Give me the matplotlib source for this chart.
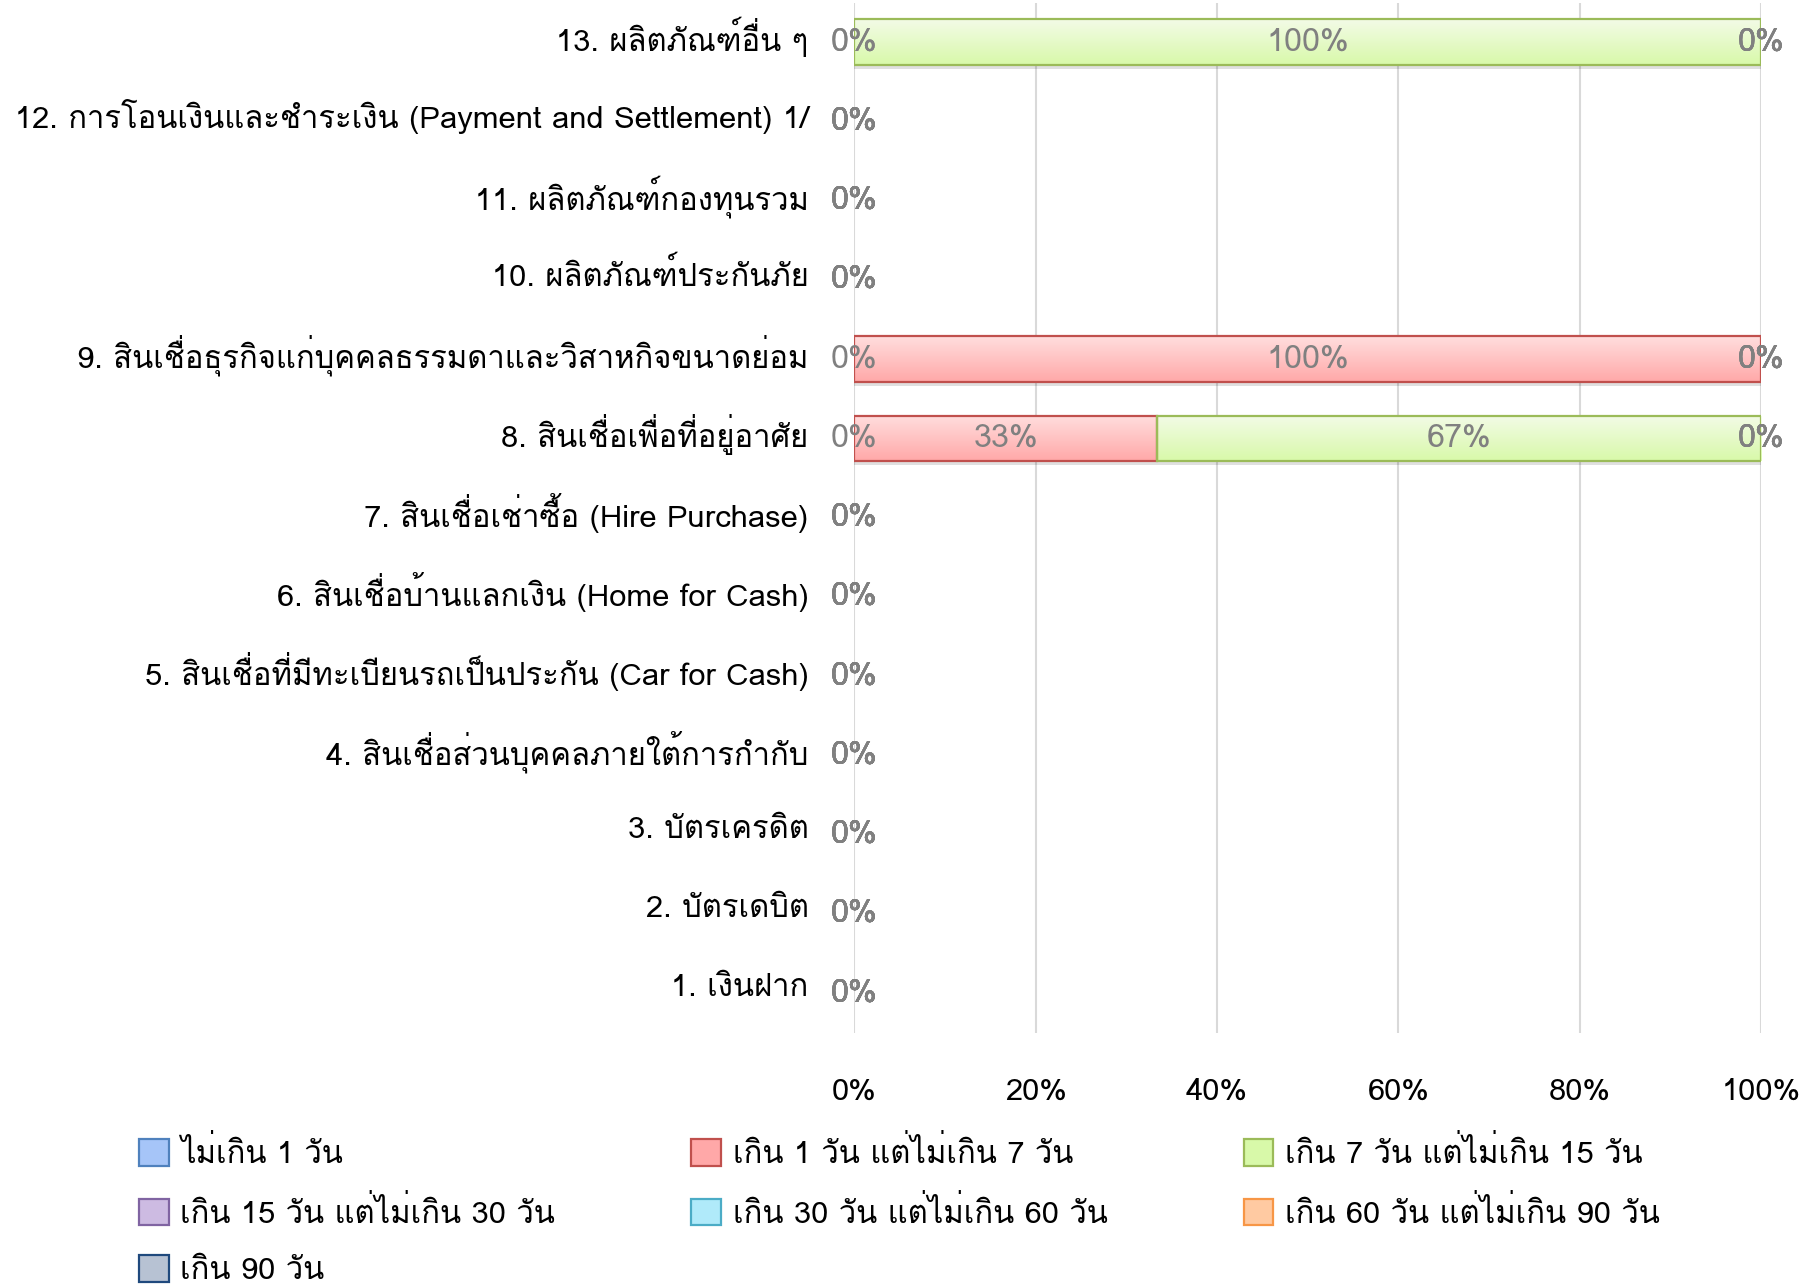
"""
Stacked 100% horizontal bars: share of complaints by processing time, per product group.
"""

import numpy as np
import matplotlib
matplotlib.use("Agg")
import matplotlib.pyplot as plt
from matplotlib import font_manager
from matplotlib.ft2font import FT2Font
from matplotlib.colors import LinearSegmentedColormap
from matplotlib.patches import Patch
from matplotlib.transforms import ScaledTranslation

# Categories, bottom to top
CATEGORIES = [
    "1. เงินฝาก",
    "2. บัตรเดบิต",
    "3. บัตรเครดิต",
    "4. สินเชื่อส่วนบุคคลภายใต้การกำกับ",
    "5. สินเชื่อที่มีทะเบียนรถเป็นประกัน (Car for Cash)",
    "6. สินเชื่อบ้านแลกเงิน (Home for Cash)",
    "7. สินเชื่อเช่าซื้อ (Hire Purchase)",
    "8. สินเชื่อเพื่อที่อยู่อาศัย",
    "9. สินเชื่อธุรกิจแก่บุคคลธรรมดาและวิสาหกิจขนาดย่อม",
    "10. ผลิตภัณฑ์ประกันภัย",
    "11. ผลิตภัณฑ์กองทุนรวม",
    "12. การโอนเงินและชำระเงิน (Payment and Settlement) 1/",
    "13. ผลิตภัณฑ์อื่น ๆ",
]

SERIES = [
    "ไม่เกิน 1 วัน",
    "เกิน 1 วัน แต่ไม่เกิน 7 วัน",
    "เกิน 7 วัน แต่ไม่เกิน 15 วัน",
    "เกิน 15 วัน แต่ไม่เกิน 30 วัน",
    "เกิน 30 วัน แต่ไม่เกิน 60 วัน",
    "เกิน 60 วัน แต่ไม่เกิน 90 วัน",
    "เกิน 90 วัน",
]

# percent values per series, same order as CATEGORIES
S1 = [0, 0, 0, 0, 0, 0, 0, 0, 0, 0, 0, 0, 0]
S2 = [0, 0, 0, 0, 0, 0, 0, 33.33, 100, 0, 0, 0, 0]
S3 = [0, 0, 0, 0, 0, 0, 0, 66.67, 0, 0, 0, 0, 100]
S4 = [0, 0, 0, 0, 0, 0, 0, 0, 0, 0, 0, 0, 0]
S5 = [0, 0, 0, 0, 0, 0, 0, 0, 0, 0, 0, 0, 0]
S6 = [0, 0, 0, 0, 0, 0, 0, 0, 0, 0, 0, 0, 0]
S7 = [0, 0, 0, 0, 0, 0, 0, 0, 0, 0, 0, 0, 0]
VALUES = [S1, S2, S3, S4, S5, S6, S7]

X_TICKS = [0, 20, 40, 60, 80, 100]

# (edge, gradient top, gradient bottom)
STYLES = [
    ("#4f81bd", "#dce8fd", "#a6c5f8"),
    ("#c0504d", "#ffdede", "#ffa8a8"),
    ("#9bbb59", "#f3fbe7", "#d8f9a9"),
    ("#8064a2", "#eee7f6", "#cdbbe2"),
    ("#4bacc6", "#e2f8fd", "#b0eafa"),
    ("#f79646", "#fff1e3", "#ffcaa2"),
    ("#1f497d", "#e6eaf0", "#b7c2d3"),
]


def _thai_family():
    for f in font_manager.fontManager.ttflist:
        try:
            if 0x0E01 in FT2Font(f.fname).get_charmap():
                return f.name
        except Exception:
            continue
    return None


thai = _thai_family()
families = ([thai] if thai else []) + ["DejaVu Sans"]
plt.rcParams["font.family"] = families

FS = 22.3

fig = plt.figure(figsize=(18.18, 12.84), dpi=100)
ax = fig.add_axes([0.470, 0.1955, 0.4986, 0.8025])

y = np.arange(len(CATEGORIES))
bar_h = 0.58
left = np.zeros(len(CATEGORIES))
grad = np.linspace(0, 1, 256).reshape(-1, 1)

for vals, (edge, top, bottom) in zip(VALUES, STYLES):
    vals = np.asarray(vals, dtype=float)
    # soft shadow under visible segments
    ax.barh(y - 0.05, vals, left=left, height=bar_h, color="#000000",
            alpha=0.12, linewidth=0, zorder=1)
    bars = ax.barh(y, vals, left=left, height=bar_h, facecolor="none",
                   edgecolor=edge, linewidth=1.6, zorder=3)
    cmap = LinearSegmentedColormap.from_list("g", [bottom, top])
    for p in bars.patches:
        if p.get_width() <= 0:
            p.set_linewidth(0)
            continue
        x0, y0 = p.get_x(), p.get_y()
        im = ax.imshow(grad, extent=[x0, x0 + p.get_width(), y0, y0 + p.get_height()],
                       origin="lower", cmap=cmap, aspect="auto", zorder=2)
        im.set_clip_path(p)
    ax.bar_label(bars, labels=[f"{v:.0f}%" for v in vals], label_type="center",
                 color="#808080", fontsize=FS + 1, zorder=4)
    left += vals

ax.set_xlim(0, 100)
ax.set_ylim(-0.5, len(CATEGORIES) - 0.5)
ax.set_xticks(X_TICKS)
ax.set_xticklabels([f"{t}%" for t in X_TICKS], fontsize=FS)
ax.set_yticks(y)
ax.set_yticklabels(CATEGORIES, fontsize=FS)
ax.tick_params(axis="both", length=0)
ax.tick_params(axis="x", pad=32)
ax.tick_params(axis="y", pad=33)
lift = ScaledTranslation(0, 8 / 100, fig.dpi_scale_trans)
for lab in ax.get_yticklabels():
    lab.set_transform(lab.get_transform() + lift)
ax.grid(axis="x", color="#d9d9d9", linewidth=1.5, zorder=0)
ax.set_axisbelow(True)
for s in ax.spines.values():
    s.set_visible(False)

handles = [Patch(facecolor=bottom, edgecolor=edge, linewidth=1.6)
           for edge, top, bottom in STYLES]
order = [0, 3, 6, 1, 4, 2, 5]  # row-major look with 3 columns
fig.legend([handles[i] for i in order], [SERIES[i] for i in order],
           ncol=3, loc="upper left", bbox_to_anchor=(0.0765, 0.115),
           frameon=False, fontsize=FS, handlelength=0.95, handleheight=0.95,
           handletextpad=0.38, columnspacing=4.4, labelspacing=0.85,
           borderaxespad=0, borderpad=0)

fig.savefig("out.png", dpi=100)
